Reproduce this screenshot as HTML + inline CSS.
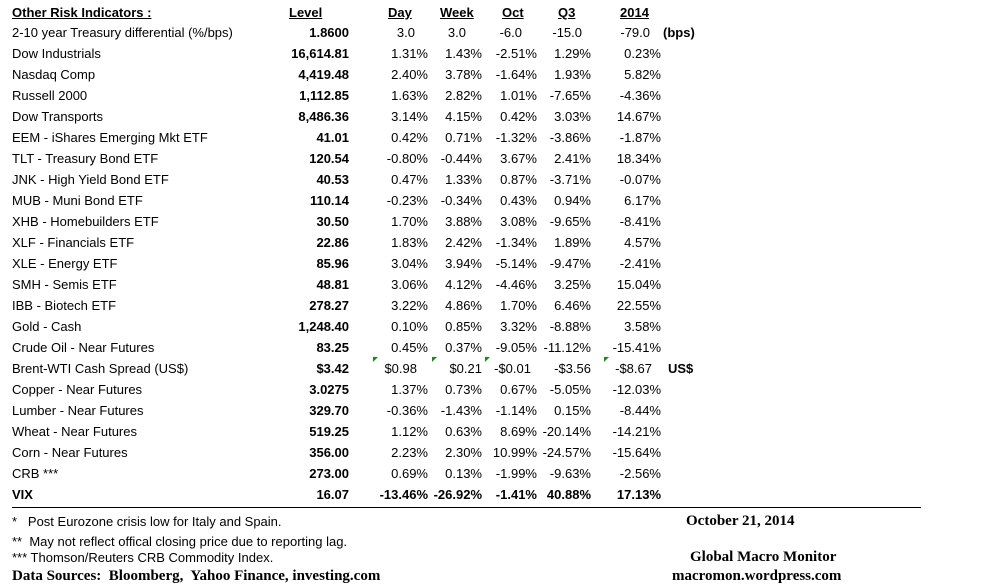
<!DOCTYPE html>
<html><head><meta charset="utf-8"><style>
body{margin:0;width:981px;height:588px;background:#fff;position:relative;overflow:hidden;font-family:"Liberation Sans",sans-serif;font-size:13px;color:#000}
.r{position:absolute;left:0;width:981px;height:18px}
.r span{position:absolute;top:0;white-space:nowrap}
.l{left:12px}
.c1{right:calc(981px - 349px);font-weight:bold}
.c2{right:calc(981px - 428px)}
.c3{right:calc(981px - 482px)}
.c4{right:calc(981px - 537px)}
.c5{right:calc(981px - 591px)}
.c6{right:calc(981px - 661px)}
.h span{font-weight:bold;text-decoration:underline}
.f{position:absolute;white-space:nowrap}
.t{font-family:"Liberation Serif",serif;font-weight:bold;font-size:15px}
.tri{position:absolute;top:357px;width:0;height:0;border-top:5px solid #1a8a1a;border-right:5px solid transparent}
</style></head><body>
<div class="r h" style="top:5px"><span class="l">Other Risk Indicators :</span><span style="left:289px">Level</span><span style="left:388px">Day</span><span style="left:440px">Week</span><span style="left:502px">Oct</span><span style="left:558px">Q3</span><span style="left:620px">2014</span></div>
<div class="r" style="top:25px"><span class="l">2-10 year Treasury differential (%/bps)</span><span class="c1">1.8600</span><span class="c2" style="right:566px">3.0</span><span class="c3" style="right:515px">3.0</span><span class="c4" style="right:459px">-6.0</span><span class="c5" style="right:399px">-15.0</span><span class="c6" style="right:331px">-79.0</span><span style="left:663px;font-weight:bold">(bps)</span></div>
<div class="r" style="top:46px"><span class="l">Dow Industrials</span><span class="c1">16,614.81</span><span class="c2">1.31%</span><span class="c3">1.43%</span><span class="c4">-2.51%</span><span class="c5">1.29%</span><span class="c6">0.23%</span></div>
<div class="r" style="top:67px"><span class="l">Nasdaq Comp</span><span class="c1">4,419.48</span><span class="c2">2.40%</span><span class="c3">3.78%</span><span class="c4">-1.64%</span><span class="c5">1.93%</span><span class="c6">5.82%</span></div>
<div class="r" style="top:88px"><span class="l">Russell 2000</span><span class="c1">1,112.85</span><span class="c2">1.63%</span><span class="c3">2.82%</span><span class="c4">1.01%</span><span class="c5">-7.65%</span><span class="c6">-4.36%</span></div>
<div class="r" style="top:109px"><span class="l">Dow Transports</span><span class="c1">8,486.36</span><span class="c2">3.14%</span><span class="c3">4.15%</span><span class="c4">0.42%</span><span class="c5">3.03%</span><span class="c6">14.67%</span></div>
<div class="r" style="top:130px"><span class="l">EEM - iShares Emerging Mkt ETF</span><span class="c1">41.01</span><span class="c2">0.42%</span><span class="c3">0.71%</span><span class="c4">-1.32%</span><span class="c5">-3.86%</span><span class="c6">-1.87%</span></div>
<div class="r" style="top:151px"><span class="l">TLT - Treasury Bond ETF</span><span class="c1">120.54</span><span class="c2">-0.80%</span><span class="c3">-0.44%</span><span class="c4">3.67%</span><span class="c5">2.41%</span><span class="c6">18.34%</span></div>
<div class="r" style="top:172px"><span class="l">JNK - High Yield Bond ETF</span><span class="c1">40.53</span><span class="c2">0.47%</span><span class="c3">1.33%</span><span class="c4">0.87%</span><span class="c5">-3.71%</span><span class="c6">-0.07%</span></div>
<div class="r" style="top:193px"><span class="l">MUB - Muni Bond ETF</span><span class="c1">110.14</span><span class="c2">-0.23%</span><span class="c3">-0.34%</span><span class="c4">0.43%</span><span class="c5">0.94%</span><span class="c6">6.17%</span></div>
<div class="r" style="top:214px"><span class="l">XHB - Homebuilders ETF</span><span class="c1">30.50</span><span class="c2">1.70%</span><span class="c3">3.88%</span><span class="c4">3.08%</span><span class="c5">-9.65%</span><span class="c6">-8.41%</span></div>
<div class="r" style="top:235px"><span class="l">XLF - Financials ETF</span><span class="c1">22.86</span><span class="c2">1.83%</span><span class="c3">2.42%</span><span class="c4">-1.34%</span><span class="c5">1.89%</span><span class="c6">4.57%</span></div>
<div class="r" style="top:256px"><span class="l">XLE - Energy ETF</span><span class="c1">85.96</span><span class="c2">3.04%</span><span class="c3">3.94%</span><span class="c4">-5.14%</span><span class="c5">-9.47%</span><span class="c6">-2.41%</span></div>
<div class="r" style="top:277px"><span class="l">SMH - Semis ETF</span><span class="c1">48.81</span><span class="c2">3.06%</span><span class="c3">4.12%</span><span class="c4">-4.46%</span><span class="c5">3.25%</span><span class="c6">15.04%</span></div>
<div class="r" style="top:298px"><span class="l">IBB - Biotech ETF</span><span class="c1">278.27</span><span class="c2">3.22%</span><span class="c3">4.86%</span><span class="c4">1.70%</span><span class="c5">6.46%</span><span class="c6">22.55%</span></div>
<div class="r" style="top:319px"><span class="l">Gold - Cash</span><span class="c1">1,248.40</span><span class="c2">0.10%</span><span class="c3">0.85%</span><span class="c4">3.32%</span><span class="c5">-8.88%</span><span class="c6">3.58%</span></div>
<div class="r" style="top:340px"><span class="l">Crude Oil - Near Futures</span><span class="c1">83.25</span><span class="c2">0.45%</span><span class="c3">0.37%</span><span class="c4">-9.05%</span><span class="c5">-11.12%</span><span class="c6">-15.41%</span></div>
<div class="r" style="top:361px"><span class="l">Brent-WTI Cash Spread (US$)</span><span class="c1">$3.42</span><span class="c2" style="right:564px">$0.98</span><span class="c3">$0.21</span><span class="c4" style="right:450px">-$0.01</span><span class="c5">-$3.56</span><span class="c6" style="right:329px">-$8.67</span><span style="left:668px;font-weight:bold">US$</span></div>
<div class="tri" style="left:373px"></div><div class="tri" style="left:432px"></div><div class="tri" style="left:485px"></div><div class="tri" style="left:604px"></div>
<div class="r" style="top:382px"><span class="l">Copper - Near Futures</span><span class="c1">3.0275</span><span class="c2">1.37%</span><span class="c3">0.73%</span><span class="c4">0.67%</span><span class="c5">-5.05%</span><span class="c6">-12.03%</span></div>
<div class="r" style="top:403px"><span class="l">Lumber - Near Futures</span><span class="c1">329.70</span><span class="c2">-0.36%</span><span class="c3">-1.43%</span><span class="c4">-1.14%</span><span class="c5">0.15%</span><span class="c6">-8.44%</span></div>
<div class="r" style="top:424px"><span class="l">Wheat - Near Futures</span><span class="c1">519.25</span><span class="c2">1.12%</span><span class="c3">0.63%</span><span class="c4">8.69%</span><span class="c5">-20.14%</span><span class="c6">-14.21%</span></div>
<div class="r" style="top:445px"><span class="l">Corn - Near Futures</span><span class="c1">356.00</span><span class="c2">2.23%</span><span class="c3">2.30%</span><span class="c4">10.99%</span><span class="c5">-24.57%</span><span class="c6">-15.64%</span></div>
<div class="r" style="top:466px"><span class="l">CRB ***</span><span class="c1">273.00</span><span class="c2">0.69%</span><span class="c3">0.13%</span><span class="c4">-1.99%</span><span class="c5">-9.63%</span><span class="c6">-2.56%</span></div>
<div class="r" style="top:487px;font-weight:bold"><span class="l">VIX</span><span class="c1">16.07</span><span class="c2">-13.46%</span><span class="c3">-26.92%</span><span class="c4">-1.41%</span><span class="c5">40.88%</span><span class="c6">17.13%</span></div>
<div style="position:absolute;left:12px;top:507px;width:909px;height:1px;background:#000"></div>
<div class="f" style="left:12px;top:514px">*&nbsp;&nbsp; Post Eurozone crisis low for Italy and Spain.</div>
<div class="f" style="left:12px;top:534px">**&nbsp; May not reflect offical closing price due to reporting lag.</div>
<div class="f" style="left:12px;top:550px">*** Thomson/Reuters CRB Commodity Index.</div>
<div class="f t" style="left:12px;top:568px">Data Sources:&nbsp; Bloomberg,&nbsp; Yahoo Finance, investing.com</div>
<div class="f t" style="left:686px;top:513px">October 21, 2014</div>
<div class="f t" style="left:690px;top:549px">Global Macro Monitor</div>
<div class="f t" style="left:672px;top:568px">macromon.wordpress.com</div>
</body></html>
